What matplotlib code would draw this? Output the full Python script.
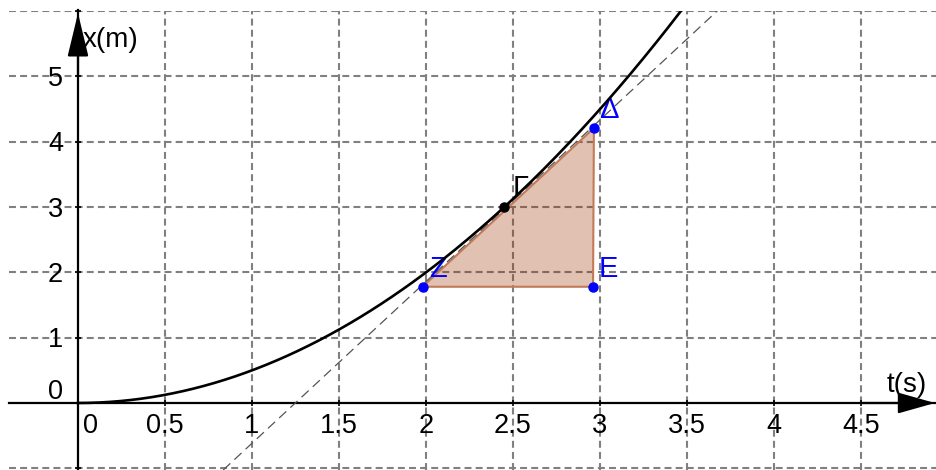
import numpy as np
import matplotlib.pyplot as plt
from matplotlib.patches import Polygon

plt.rcParams['font.family'] = ['Liberation Sans', 'DejaVu Sans']
plt.rcParams['lines.scale_dashes'] = False

# motion x = 1/2 * a * t^2
accel = 1.0
t_curve = np.linspace(0, 3.6, 300)
x_curve = 0.5 * accel * t_curve ** 2

# tangent line through two points
tangent_t = [0.845, 3.672]
tangent_x = [-1.0, 6.0]

# points
pt_names = ['Z', 'E', 'Δ']
pt_t = [1.98, 2.96, 2.965]
pt_x = [1.78, 1.78, 4.21]
gamma_t, gamma_x = 2.45, 3.0

xticks = [0, 0.5, 1, 1.5, 2, 2.5, 3, 3.5, 4, 4.5]
xlabels = ['0', '0.5', '1', '1.5', '2', '2.5', '3', '3.5', '4', '4.5']
yticks = [-1, 0, 1, 2, 3, 4, 5, 6]
ylabels = ['0', '1', '2', '3', '4', '5']

blue = '#0000ff'

fig = plt.figure(figsize=(9.37, 4.7), dpi=100)
ax = fig.add_axes([9 / 937, 0, 928 / 937, 459.5 / 470])
ax.set_xlim(-69 / 174, 859 / 174)
ax.set_ylim(-67 / 65.3, 392.5 / 65.3)

# grid
for t in xticks[1:]:
    ax.axvline(t, color='#808080', lw=1.5, ls=(0, (5, 3)), zorder=0)
for y in yticks:
    if y != 0:
        ax.axhline(y, color='#808080', lw=1.5, ls=(0, (5, 3)), zorder=0)

# axes with spines at zero
for s in ['top', 'right']:
    ax.spines[s].set_visible(False)
ax.spines['left'].set_position(('data', 0))
ax.spines['bottom'].set_position(('data', 0))
ax.spines['left'].set_linewidth(1.6)
ax.spines['bottom'].set_linewidth(1.6)
ax.set_xticks(xticks)
ax.set_yticks(yticks)
ax.tick_params(direction='inout', length=5, width=1.2, labelbottom=False, labelleft=False)

# arrows
ax.annotate('', xy=(4.925, 0), xytext=(4.5, 0),
            arrowprops=dict(arrowstyle='-|>,head_length=2.3,head_width=0.65', mutation_scale=10,
                            color='black', lw=1.6, shrinkA=0, shrinkB=0))
ax.annotate('', xy=(0, 5.97), xytext=(0, 5.0),
            arrowprops=dict(arrowstyle='-|>,head_length=2.7,head_width=0.65', mutation_scale=10,
                            color='black', lw=1.6, shrinkA=0, shrinkB=0))

# tick labels
for t, lab in zip(xticks, xlabels):
    if t == 0:
        ax.annotate(lab, (t, 0), xytext=(5, -30), textcoords='offset pixels',
                    ha='left', va='baseline', fontsize=19.5)
    else:
        ax.annotate(lab, (t, 0), xytext=(0, -30), textcoords='offset pixels',
                    ha='center', va='baseline', fontsize=19.5)
for i, lab in enumerate(ylabels):
    dy = 4 if i == 0 else -9.5
    ax.annotate(lab, (0, i), xytext=(-15, dy), textcoords='offset pixels',
                ha='right', va='baseline', fontsize=19.5)

ax.text(0.029, 5.45, 'x(m)', fontsize=20, ha='left', va='baseline')
ax.text(4.649, 0.168, 't(s)', fontsize=20, ha='left', va='baseline')

# triangle
tri = Polygon(list(zip(pt_t, pt_x)), closed=True, facecolor=(0.6, 0.2, 0.0, 0.3),
              edgecolor='#c47a58', lw=1.5, zorder=2)
ax.add_patch(tri)

# tangent and curve
ax.axline((tangent_t[0], tangent_x[0]), (tangent_t[1], tangent_x[1]),
          color='#555555', lw=0.9, ls=(0, (7, 4)), zorder=3)
ax.plot(t_curve, x_curve, color='black', lw=1.9, zorder=4)

# points
ax.plot(pt_t, pt_x, 'o', color=blue, ms=6.5, zorder=5)
ax.plot([gamma_t], [gamma_x], 'o', color='black', ms=6.5, zorder=5)
for name, t, x in zip(pt_names, pt_t, pt_x):
    ax.annotate(name, (t, x), xytext=(15, 10), textcoords='offset pixels',
                ha='center', va='baseline', fontsize=21, color=blue)
ax.annotate('Γ', (gamma_t, gamma_x), xytext=(16, 11), textcoords='offset pixels',
            ha='center', va='baseline', fontsize=21, color='black')

fig.savefig('out.png', dpi=100)
